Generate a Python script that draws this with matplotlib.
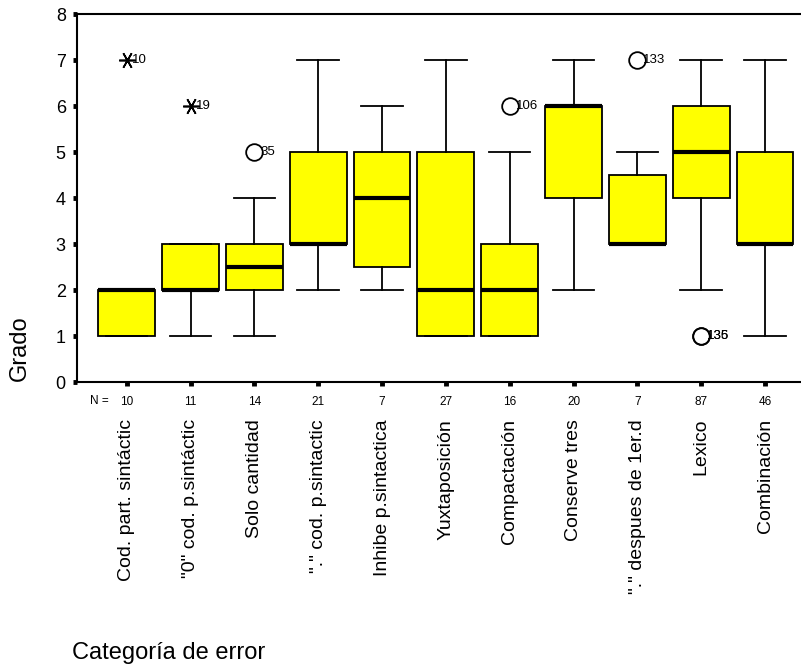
import matplotlib
matplotlib.use("Agg")
import matplotlib.pyplot as plt

plt.rcParams['font.family'] = ['Liberation Sans', 'DejaVu Sans']

# categories and box statistics
categorias = ['Cod. part. sintáctic', '"0" cod. p.sintáctic', 'Solo cantidad',
              '"." cod. p.sintactic', 'Inhibe p.sintactica', 'Yuxtaposición',
              'Compactación', 'Conserve tres', '"." despues de 1er.d',
              'Lexico', 'Combinación']
n_casos = [10, 11, 14, 21, 7, 27, 16, 20, 7, 87, 46]
q1 = [1, 2, 2, 3, 2.5, 1, 1, 4, 3, 4, 3]
mediana = [2, 2, 2.5, 3, 4, 2, 2, 6, 3, 5, 3]
q3 = [2, 3, 3, 5, 5, 5, 3, 6, 4.5, 6, 5]
bigote_inf = [1, 1, 1, 2, 2, 1, 1, 2, 3, 2, 1]
bigote_sup = [2, 3, 4, 7, 6, 7, 5, 7, 5, 7, 7]

# outliers: (category index, value, case label, kind)
atipicos = [(0, 7, '10', 'extremo'), (1, 6, '19', 'extremo'),
            (2, 5, '35', 'atipico'), (6, 6, '106', 'atipico'),
            (8, 7, '133', 'atipico'), (9, 1, '135', 'atipico'),
            (9, 1, '136', 'atipico')]

fig = plt.figure(figsize=(8.01, 6.68), dpi=100)
ax = fig.add_axes([0.096, 0.428, 0.903, 0.551])

stats = []
for i in range(len(categorias)):
    stats.append({'q1': q1[i], 'med': mediana[i], 'q3': q3[i],
                  'whislo': bigote_inf[i], 'whishi': bigote_sup[i], 'fliers': []})

pos = list(range(1, len(categorias) + 1))
ax.bxp(stats, positions=pos, widths=0.89, patch_artist=True, showfliers=False,
       boxprops=dict(facecolor='#ffff00', edgecolor='black', linewidth=1.3),
       medianprops=dict(color='black', linewidth=3),
       whiskerprops=dict(color='black', linewidth=1.3),
       capprops=dict(color='black', linewidth=1.3), capwidths=0.65)

for idx, val, lab, tipo in atipicos:
    x = pos[idx]
    if tipo == 'extremo':
        ax.plot(x, val, marker=(6, 2, 90), color='black', markersize=12,
                markeredgewidth=1.2)
    else:
        ax.plot(x, val, marker='o', markerfacecolor='none', markeredgecolor='black',
                markersize=12, markeredgewidth=1.3)
    ax.text(x + 0.09, val, lab, fontsize=9.5, va='center', ha='left')

ax.set_xlim(0.22, 11.55)
ax.set_ylim(0, 8)
ax.set_yticks(range(0, 9))
ax.tick_params(axis='y', length=3, width=3.5, labelsize=13, pad=5)
ax.set_xticks(pos)
ax.set_xticklabels([str(n) for n in n_casos], fontsize=8.5)
ax.tick_params(axis='x', length=3, width=3.5, pad=7)
ax.spines['right'].set_visible(False)
for s in ['left', 'top', 'bottom']:
    ax.spines[s].set_linewidth(1.5)

fig.text(90 / 801, 1 - 401 / 668, 'N =', fontsize=8.5, ha='left', va='center')
for x, cat in zip(pos, categorias):
    ax.text(x, -0.8, cat, rotation=90, ha='center', va='top', fontsize=14,
            transform=ax.transData, clip_on=False)

fig.text(20 / 801, 1 - 348 / 668, 'Grado', rotation=90, fontsize=17,
         ha='center', va='center')
fig.text(72 / 801, 1 - 653 / 668, 'Categoría de error', fontsize=17,
         ha='left', va='center')

fig.savefig('out.png', dpi=100)
